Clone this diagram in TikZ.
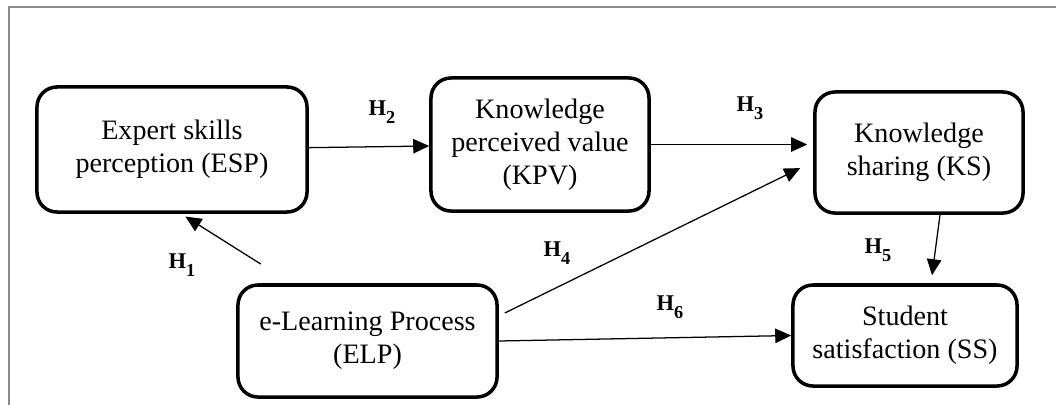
\documentclass[tikz,border=0pt]{standalone}
\usepackage{fontspec}
\setmainfont{Liberation Serif}
\usepackage{tikz}
\usetikzlibrary{arrows.meta}
\usetikzlibrary{calc}

\newcommand{\hname}[1]{\textbf{H}\raisebox{-5.5pt}{\fontsize{13}{13}\selectfont\textbf{#1}}}

\begin{document}
\begin{tikzpicture}[x=0.025cm,y=-0.025cm]
        \tikzset{>={Triangle[length=0.4cm,width=0.36cm]}}
        \tikzstyle{box}=[draw=black,line width=2.5pt,rounded corners=0.5cm,align=center,font=\fontsize{20}{23.5}\selectfont,inner sep=2pt]
        \tikzstyle{hlabel}=[font=\fontsize{16}{16}\selectfont,inner sep=0pt]
        \tikzstyle{link}=[->,line width=0.9pt]

        \useasboundingbox (0,0) rectangle (1056,404);
        \definecolor{g-framecolor}{HTML}{8A8A8A}
        \draw [g-framecolor, line width=0.05cm] (9,7) rectangle (1090,440);

        \node [box, minimum width=6.75cm, minimum height=3.125cm] (esp) at (172,149.5) {Expert skills\\perception (ESP)};
        \node [box, minimum width=5.45cm, minimum height=3.325cm] (kpv) at (540,144.5) {Knowledge\\perceived value\\(KPV)};
        \node [box, minimum width=5.2cm, minimum height=3.025cm] (ks) at (919,152.5) {Knowledge\\sharing (KS)};
        \node [box, minimum width=6.475cm, minimum height=2.8cm] (elp) at (367.5,341) {e-Learning Process\\(ELP)};
        \node [box, minimum width=5.6cm, minimum height=2.525cm] (ss) at (905,335.5) {Student\\satisfaction (SS)};

        \draw [link, shorten <=0.9cm, shorten >=0.13cm] ([xshift=1.375cm]elp.north west) -- ([xshift=0.225cm]esp.south);
        \draw [link] (esp) -- (kpv);
        \draw [link, shorten >=0.15cm] (kpv.east) -- (kpv.east -| ks.west);
        \draw [link] ([xshift=0.15cm,yshift=0.7cm]elp.east) -- ([xshift=-0.325cm,yshift=-0.39cm]ks.west);
        \draw [link] ([xshift=0.525cm]ks.south) -- ([xshift=0.675cm,yshift=0.2cm]ss.north);
        \draw [link] (elp.east) -- (ss.west);

        \node [hlabel] (h1) at (182,265) {\hname{1}};
        \node [hlabel] (h2) at (382,112) {\hname{2}};
        \node [hlabel] (h3) at (750,108) {\hname{3}};
        \node [hlabel] (h4) at (557,253) {\hname{4}};
        \node [hlabel] (h5) at (878,250) {\hname{5}};
        \node [hlabel] (h6) at (670,307) {\hname{6}};
    \end{tikzpicture}
\end{document}
